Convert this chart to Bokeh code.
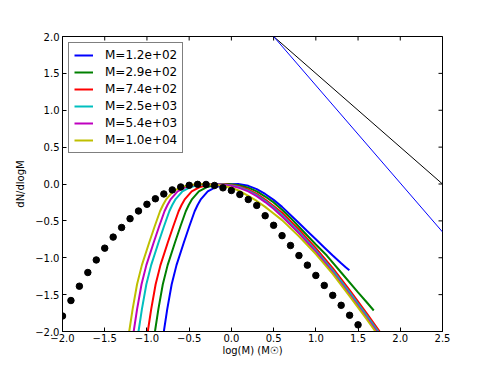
import math
from bokeh.plotting import figure
from bokeh.models import Legend, LegendItem, FixedTicker, Range1d, CustomJSTickFormatter
from bokeh.embed import file_html
from bokeh.resources import INLINE

# ---- data ----
x_ticks = [-2.0, -1.5, -1.0, -0.5, 0.0, 0.5, 1.0, 1.5, 2.0, 2.5]
y_ticks = [-2.0, -1.5, -1.0, -0.5, 0.0, 0.5, 1.0, 1.5, 2.0]

labels = ["M=1.2e+02", "M=2.9e+02", "M=7.4e+02", "M=2.5e+03", "M=5.4e+03", "M=1.0e+04"]

blue_x = [-0.80, -0.76, -0.707, -0.65, -0.565, -0.50, -0.435, -0.40, -0.36, -0.28, -0.18, -0.08, 0.0, 0.08,
          0.2, 0.3, 0.4, 0.5, 0.6, 0.7, 0.8, 0.9, 1.0, 1.1, 1.2, 1.3, 1.35, 1.397]
blue_y = [-2.0, -1.70, -1.36, -1.10, -0.80, -0.58, -0.37, -0.285, -0.205, -0.10, -0.04, -0.012, -0.003, 0.0,
          -0.025, -0.07, -0.135, -0.215, -0.31, -0.42, -0.53, -0.64, -0.75, -0.86, -0.97, -1.075, -1.125, -1.17]

green_x = [-0.905, -0.865, -0.812, -0.755, -0.67, -0.605, -0.54, -0.505, -0.465, -0.385, -0.285, -0.185, -0.105, -0.025,
           0.1, 0.2, 0.3, 0.4, 0.5, 0.6, 0.7, 0.8, 1.0, 1.13, 1.3, 1.5, 1.6, 1.686]
green_y = [-2.0, -1.70, -1.36, -1.10, -0.80, -0.58, -0.37, -0.285, -0.205, -0.10, -0.04, -0.012, -0.003, 0.0,
           -0.02, -0.05, -0.10, -0.17, -0.25, -0.35, -0.46, -0.58, -0.82, -0.97, -1.2, -1.47, -1.6, -1.715]

red_x = [-0.99, -0.95, -0.897, -0.84, -0.755, -0.69, -0.625, -0.59, -0.55, -0.47, -0.37, -0.27, -0.19, -0.11,
         0.0, 0.1, 0.2, 0.3, 0.4, 0.5, 0.6, 0.8, 1.0, 1.2, 1.4, 1.6, 1.78]
red_y = [-2.0, -1.70, -1.36, -1.10, -0.80, -0.58, -0.37, -0.285, -0.205, -0.10, -0.04, -0.012, -0.003, 0.0,
         -0.012, -0.035, -0.075, -0.135, -0.21, -0.30, -0.39, -0.62, -0.87, -1.14, -1.44, -1.75, -2.04]

cyan_x = [-1.10, -1.06, -1.007, -0.95, -0.865, -0.80, -0.735, -0.70, -0.66, -0.58, -0.48, -0.38, -0.30, -0.22,
          -0.1, 0.0, 0.1, 0.2, 0.3, 0.4, 0.5, 0.6, 0.8, 1.0, 1.2, 1.4, 1.6, 1.77]
cyan_y = [-2.0, -1.70, -1.36, -1.10, -0.80, -0.58, -0.37, -0.285, -0.205, -0.10, -0.04, -0.012, -0.003, 0.0,
          -0.006, -0.02, -0.045, -0.09, -0.15, -0.23, -0.32, -0.42, -0.65, -0.90, -1.17, -1.47, -1.78, -2.05]

magenta_x = [-1.157, -1.117, -1.064, -1.007, -0.922, -0.857, -0.792, -0.757, -0.717, -0.637, -0.537, -0.437, -0.357, -0.277,
             -0.15, 0.0, 0.1, 0.2, 0.3, 0.4, 0.5, 0.6, 0.8, 1.0, 1.2, 1.4, 1.6, 1.76]
magenta_y = [-2.0, -1.70, -1.36, -1.10, -0.80, -0.58, -0.37, -0.285, -0.205, -0.10, -0.04, -0.012, -0.003, 0.0,
             -0.008, -0.025, -0.055, -0.10, -0.165, -0.245, -0.335, -0.44, -0.67, -0.92, -1.20, -1.50, -1.81, -2.06]

yellow_x = [-1.21, -1.17, -1.117, -1.06, -0.975, -0.91, -0.845, -0.81, -0.77, -0.69, -0.59, -0.49, -0.41, -0.33,
            -0.2, -0.1, 0.0, 0.1, 0.2, 0.3, 0.4, 0.5, 0.6, 0.8, 1.0, 1.2, 1.4, 1.6, 1.75]
yellow_y = [-2.0, -1.70, -1.36, -1.10, -0.80, -0.58, -0.37, -0.285, -0.205, -0.10, -0.04, -0.012, -0.003, 0.0,
            -0.01, -0.025, -0.05, -0.095, -0.16, -0.23, -0.31, -0.40, -0.49, -0.71, -0.95, -1.22, -1.52, -1.83, -2.07]

dots_x = [-2.0, -1.9, -1.8, -1.7, -1.6, -1.5, -1.4, -1.3, -1.2, -1.1, -1.0, -0.9, -0.8, -0.7, -0.6, -0.5,
          -0.4, -0.3, -0.2, -0.1, 0.0, 0.1, 0.2, 0.3, 0.4, 0.5, 0.6, 0.7, 0.8, 0.9, 1.0, 1.1, 1.2, 1.3, 1.4, 1.5]
dots_y = [-1.79, -1.58, -1.386, -1.20, -1.03, -0.87, -0.72, -0.59, -0.47, -0.366, -0.275, -0.20, -0.135, -0.08,
          -0.04, -0.018, -0.005, -0.006, -0.02, -0.052, -0.088, -0.142, -0.21, -0.29, -0.43, -0.56, -0.70, -0.834,
          -0.97, -1.10, -1.24, -1.375, -1.51, -1.645, -1.78, -1.91]

slope_black_x = [0.5, 2.5]
slope_black_y = [2.0, 0.0]
slope_blue_x = [0.5, 2.5]
slope_blue_y = [2.0, -0.65]

curves = [(blue_x, blue_y), (green_x, green_y), (red_x, red_y),
          (cyan_x, cyan_y), (magenta_x, magenta_y), (yellow_x, yellow_y)]
colors = ["#0000ff", "#008000", "#ff0000", "#00bfbf", "#bf00bf", "#bfbf00"]

FONT = "DejaVu Sans"
X0, X1 = -2.0, 2.5
Y0, Y1 = -2.0, 2.0

p = figure(frame_width=380, frame_height=295,
           x_range=Range1d(X0, X1), y_range=Range1d(Y0, Y1),
           output_backend="svg", toolbar_location=None,
           min_border_left=62, min_border_right=12, min_border_top=36, min_border_bottom=26)
p.background_fill_color = "white"
p.border_fill_color = "white"
p.outline_line_color = "black"
p.outline_line_width = 1
p.xgrid.visible = False
p.ygrid.visible = False

fmt = CustomJSTickFormatter(code="""
    const s = Math.abs(tick).toFixed(1);
    return (tick < -1e-9 ? "\\u2212" : "") + s;
""")

for ax, ticks in ((p.xaxis[0], x_ticks), (p.yaxis[0], y_ticks)):
    ax.ticker = FixedTicker(ticks=ticks)
    ax.formatter = fmt
    ax.major_tick_in = 4
    ax.major_tick_out = 0
    ax.minor_tick_line_color = None
    ax.axis_line_color = "black"
    ax.major_tick_line_color = "black"
    ax.major_label_text_font = FONT
    ax.major_label_text_color = "black"
    ax.major_label_text_font_size = "10px"
    ax.axis_label_text_font = FONT
    ax.axis_label_text_font_size = "10px"
    ax.axis_label_text_font_style = "normal"
    ax.axis_label_text_color = "black"

p.xaxis[0].axis_label = "log(M) (M\u2609)"
p.yaxis[0].axis_label = "dN/dlogM"
p.xaxis[0].major_label_standoff = 2
p.xaxis[0].axis_label_standoff = 0
p.yaxis[0].major_label_standoff = 3
p.yaxis[0].axis_label_standoff = 6

# inward tick marks on the top and right edges (half of each dash is clipped by the frame)
p.scatter(x_ticks, [Y1] * len(x_ticks), marker="dash", size=8, angle=math.pi / 2,
          line_color="black", line_width=1)
p.scatter([X1] * len(y_ticks), y_ticks, marker="dash", size=8,
          line_color="black", line_width=1)

renderers = []
for (cx, cy), c in zip(curves, colors):
    r = p.line(cx, cy, line_color=c, line_width=2)
    renderers.append(r)

p.line(slope_black_x, slope_black_y, line_color="black", line_width=1)
p.line(slope_blue_x, slope_blue_y, line_color="#0000ff", line_width=1)

p.scatter(dots_x, dots_y, marker="circle", size=6.5, fill_color="black", line_color="black")

legend = Legend(items=[LegendItem(label=l, renderers=[r]) for l, r in zip(labels, renderers)],
                location="top_left")
legend.margin = 6
legend.padding = 5
legend.spacing = 3
legend.glyph_width = 19
legend.glyph_height = 14
legend.label_height = 14
legend.label_standoff = 12
legend.label_text_font = FONT
legend.label_text_font_size = "12px"
legend.label_text_color = "black"
legend.border_line_color = "black"
legend.border_line_width = 1
legend.background_fill_alpha = 1.0
p.add_layout(legend)

open("out.html", "w").write(file_html(p, INLINE))
